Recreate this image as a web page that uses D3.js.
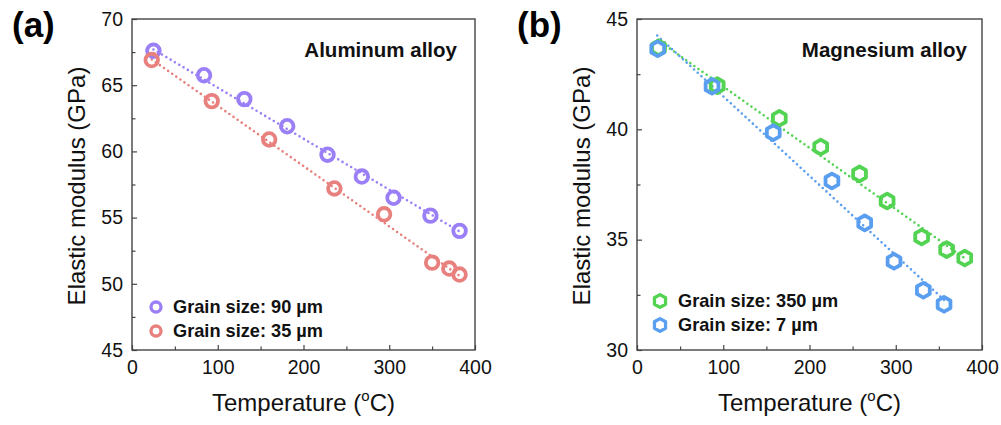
<!DOCTYPE html>
<html>
<head>
<meta charset="utf-8">
<script src="https://cdn.jsdelivr.net/npm/d3@7"></script>
<style>
  body { margin: 0; background: #fff; }
  svg { display: block; font-family: Arial, "Liberation Sans", sans-serif; }
</style>
</head>
<body>
<div id="chart"></div>
<script>
// Panel (a): aluminum alloy
const tempAl90 = [25, 84, 131, 181, 228, 268, 305, 348, 382];
const modAl90  = [67.6, 65.75, 63.95, 61.9, 59.75, 58.1, 56.5, 55.15, 54.0];
const tempAl35 = [23, 93, 160, 236, 294, 350, 370, 382];
const modAl35  = [66.9, 63.8, 60.9, 57.2, 55.25, 51.6, 51.15, 50.7];
const fitAl90  = [[25, 67.7], [382, 53.95]];
const fitAl35  = [[23, 66.95], [382, 50.6]];

// Panel (b): magnesium alloy
const tempMg350 = [25, 93, 165, 213, 258, 290, 330, 359, 380];
const modMg350  = [43.7, 41.98, 40.5, 39.2, 37.98, 36.75, 35.12, 34.55, 34.17];
const tempMg7   = [24, 87, 158, 226, 264, 298, 332, 356];
const modMg7    = [43.65, 41.95, 39.85, 37.66, 35.76, 34.02, 32.71, 32.07];
const fitMg350  = [[24, 44.05], [382, 34.1]];
const fitMg7    = [[23.5, 44.25], [358, 32.2]];

const xTicks = [0, 100, 200, 300, 400];
const yTicksA = [45, 50, 55, 60, 65, 70];
const yTicksB = [30, 35, 40, 45];

const svg = d3.select("#chart").append("svg")
    .attr("width", 1001)
    .attr("height", 425);

function hexPath(r)
{
    // pointy-top hexagon
    let pts = d3.range(6).map(i => {
        let a = Math.PI / 3 * i - Math.PI / 2;
        return [r * Math.cos(a), r * Math.sin(a)];
    });
    return "M" + pts.join("L") + "Z";
}

function drawPanel(cfg)
{
    var x = d3.scaleLinear().domain([0, 400]).range([cfg.left, cfg.right]);
    var y = d3.scaleLinear().domain(cfg.yDomain).range([350, 19]);

    var g = svg.append("g");

    // panel letter
    g.append("text")
        .attr("x", cfg.left - 120)
        .attr("y", 37)
        .style("font-size", "35px")
        .style("font-weight", "bold")
        .text(cfg.letter);

    // fit lines (dotted)
    cfg.series.forEach(s => {
        g.append("path")
            .datum(s.fit)
            .attr("fill", "none")
            .attr("stroke", s.color)
            .attr("stroke-width", 2.6)
            .attr("stroke-linecap", "round")
            .attr("stroke-dasharray", "0,5")
            .attr("d", d3.line().x(d => x(d[0])).y(d => y(d[1])));
    });

    // markers
    cfg.series.forEach(s => {
        let pts = s.t.map((t, i) => ({ t: t, v: s.v[i] }));
        if (cfg.shape === "circle") {
            g.selectAll(null).data(pts).enter().append("circle")
                .attr("cx", d => x(d.t))
                .attr("cy", d => y(d.v))
                .attr("r", 6.3)
                .attr("fill", "none")
                .attr("stroke", s.color)
                .attr("stroke-width", 3.8);
        } else {
            g.selectAll(null).data(pts).enter().append("path")
                .attr("transform", d => "translate(" + x(d.t) + "," + y(d.v) + ")")
                .attr("d", hexPath(7.4))
                .attr("fill", "none")
                .attr("stroke", s.color)
                .attr("stroke-width", 3.8)
                .attr("stroke-linejoin", "round");
        }
    });

    // axes (ticks inside)
    var xAxis = g.append("g")
        .attr("transform", "translate(0,350)")
        .call(d3.axisBottom(x).tickValues(xTicks).tickSize(-5).tickPadding(10).tickFormat(d3.format("d")));
    var xMinor = g.append("g")
        .attr("transform", "translate(0,350)")
        .call(d3.axisBottom(x).tickValues([50, 150, 250, 350]).tickSize(-3.5).tickFormat(""));
    var yAxis = g.append("g")
        .attr("transform", "translate(" + cfg.left + ",0)")
        .call(d3.axisLeft(y).tickValues(cfg.yTicks).tickSize(-5).tickPadding(9).tickFormat(d3.format("d")));
    var minorY = d3.range(cfg.yDomain[0] + 2.5, cfg.yDomain[1], 5);
    var yMinor = g.append("g")
        .attr("transform", "translate(" + cfg.left + ",0)")
        .call(d3.axisLeft(y).tickValues(minorY).tickSize(-3.5).tickFormat(""));

    [xAxis, xMinor, yAxis, yMinor].forEach(a => {
        a.select(".domain").remove();
        a.selectAll("line").attr("stroke", "#444").attr("stroke-width", 1.2);
        a.selectAll("text")
            .attr("fill", "#111")
            .style("font-size", "19.5px")
            .style("font-family", "Arial, 'Liberation Sans', sans-serif");
    });

    // frame
    g.append("rect")
        .attr("x", cfg.left)
        .attr("y", 19)
        .attr("width", cfg.right - cfg.left)
        .attr("height", 331)
        .attr("fill", "none")
        .attr("stroke", "#444")
        .attr("stroke-width", 1.4);

    // title inside plot
    g.append("text")
        .attr("x", cfg.right - cfg.titleInset)
        .attr("y", 57)
        .attr("text-anchor", "end")
        .style("font-size", "20.5px")
        .style("font-weight", "bold")
        .attr("fill", "#111")
        .text(cfg.title);

    // legend
    cfg.series.forEach((s, i) => {
        let ly = cfg.legendY + i * 24;
        if (cfg.shape === "circle") {
            g.append("circle")
                .attr("cx", cfg.left + 24)
                .attr("cy", ly)
                .attr("r", 5)
                .attr("fill", "none")
                .attr("stroke", s.color)
                .attr("stroke-width", 3.3);
        } else {
            g.append("path")
                .attr("transform", "translate(" + (cfg.left + 23) + "," + ly + ")")
                .attr("d", hexPath(6.4))
                .attr("fill", "none")
                .attr("stroke", s.color)
                .attr("stroke-width", 3.3)
                .attr("stroke-linejoin", "round");
        }
        g.append("text")
            .attr("x", cfg.left + 41)
            .attr("y", ly + 6)
            .style("font-size", "18.2px")
            .style("font-weight", "bold")
            .attr("fill", "#111")
            .text(s.label);
    });

    // Y axis label
    g.append("text")
        .attr("transform", "rotate(-90)")
        .attr("x", -186)
        .attr("y", cfg.left - 47)
        .attr("text-anchor", "middle")
        .style("font-size", "24px")
        .attr("fill", "#111")
        .text("Elastic modulus (GPa)");

    // X axis label
    var xl = g.append("text")
        .attr("x", (cfg.left + cfg.right) / 2)
        .attr("y", 411)
        .attr("text-anchor", "middle")
        .style("font-size", "24px")
        .attr("fill", "#111");
    xl.append("tspan").text("Temperature (");
    xl.append("tspan").attr("dy", -10).style("font-size", "15px").text("o");
    xl.append("tspan").attr("dy", 10).text("C)");
}

drawPanel({
    letter: "(a)", left: 132, right: 475, yDomain: [45, 70], yTicks: yTicksA,
    shape: "circle", title: "Aluminum alloy", titleInset: 18, legendY: 307,
    series: [
        { t: tempAl90, v: modAl90, fit: fitAl90, color: "#9a7ff6", label: "Grain size: 90 µm" },
        { t: tempAl35, v: modAl35, fit: fitAl35, color: "#e8807e", label: "Grain size: 35 µm" }
    ]
});

drawPanel({
    letter: "(b)", left: 637, right: 982, yDomain: [30, 45], yTicks: yTicksB,
    shape: "hex", title: "Magnesium alloy", titleInset: 15, legendY: 301,
    series: [
        { t: tempMg350, v: modMg350, fit: fitMg350, color: "#52d352", label: "Grain size: 350 µm" },
        { t: tempMg7, v: modMg7, fit: fitMg7, color: "#5a9ef0", label: "Grain size: 7 µm" }
    ]
});
</script>
</body>
</html>
